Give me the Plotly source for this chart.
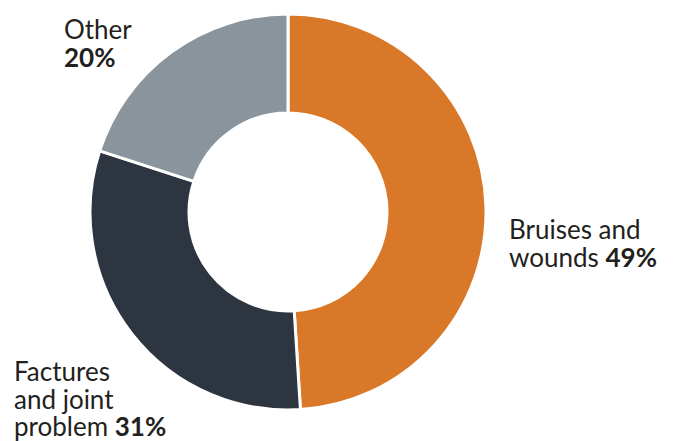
import plotly.graph_objects as go

labels = ["Bruises and wounds", "Factures and joint problem", "Other"]
label_lines = [["Bruises and", "wounds"], ["Factures", "and joint", "problem"], ["Other", ""]]
values = [49, 31, 20]
colors = ["#D97828", "#2D3540", "#8A949C"]

OFF = 8  # default page body margin
W, H = 675 - OFF, 441 - OFF
cx, cy, r = 288 - OFF, 212 - OFF, 198

fig = go.Figure(go.Pie(
    labels=labels, values=values, sort=False, direction="clockwise", rotation=0,
    hole=0.5, textinfo="none", hoverinfo="label+percent",
    marker=dict(colors=colors, line=dict(color="white", width=3)),
    domain=dict(x=[(cx - r) / W, (cx + r) / W], y=[1 - (cy + r) / H, 1 - (cy - r) / H]),
    showlegend=False,
))

FS = 26
# label positions in window pixels: left x, first baseline y
label_pos = [(508, 238), (13, 380), (63, 38)]
LINE = 27.5
for lines, v, (px, py) in zip(label_lines, values, label_pos):
    if lines[-1] == "":
        rows = lines[:-1] + [f"<b>{v}%</b>"]
    else:
        rows = lines[:-1] + [lines[-1] + f" <b>{v}%</b>"]
    for i, row in enumerate(rows):
        base = py + i * LINE - OFF
        mid = base - 0.33 * FS
        fig.add_annotation(x=(px - OFF) / W, y=1 - mid / H, xref="paper", yref="paper",
                           xanchor="left", yanchor="middle", align="left", showarrow=False,
                           borderpad=0, text=row,
                           font=dict(size=FS, color="#231F20", family="Lato"))

fig.update_layout(width=W, height=H, margin=dict(l=0, r=0, t=0, b=0),
                  paper_bgcolor="white", plot_bgcolor="white")
fig.write_html("out.html")
